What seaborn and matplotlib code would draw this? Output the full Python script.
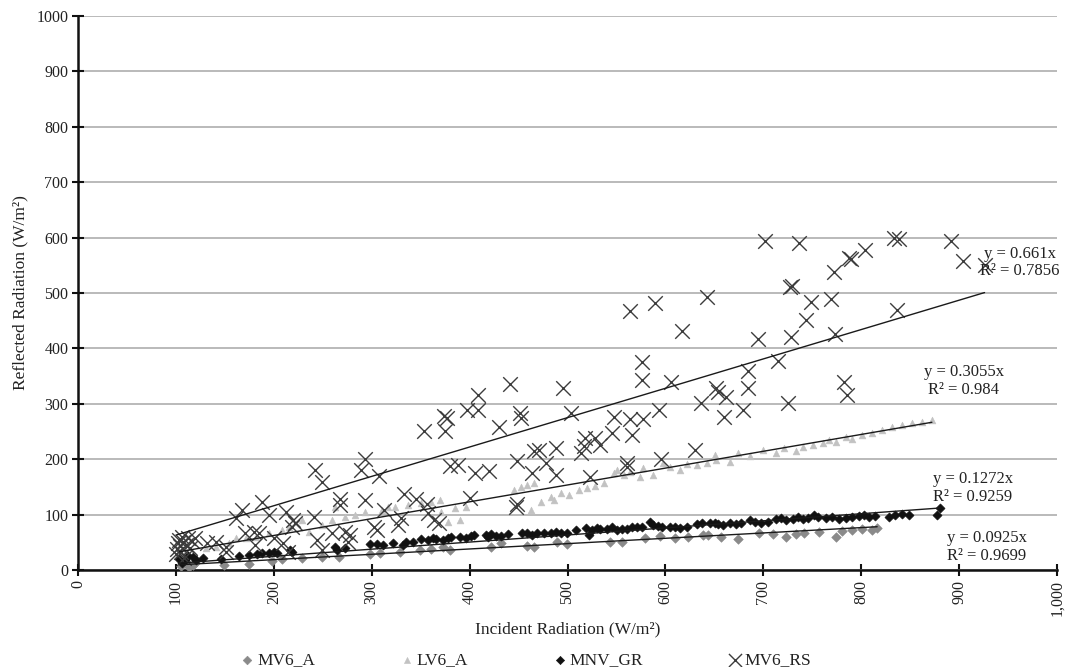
import numpy as np
import pandas as pd
import matplotlib
matplotlib.use("Agg")
import matplotlib.pyplot as plt
import seaborn as sns

# ---------------- data ----------------
series_names = ["MV6_A", "LV6_A", "MNV_GR", "MV6_RS"]

mv6a_x = [105, 108, 111, 113.8, 117.2, 120, 149.3, 174.7, 198.4, 208.6, 228.9, 249.2, 266.1, 298.3, 308.5,
          328.8, 349.1, 360.9, 372.8, 379.5, 421.9, 432, 459.1, 465.9, 489.6, 499.7, 543.8, 555.6, 579.3,
          594.6, 609.8, 623.3, 638.6, 643.6, 657.2, 674.1, 696.1, 709.7, 723.2, 733.4, 741.9, 757.1, 774,
          780.8, 790.9, 801.1, 811.3, 816.3]
mv6a_y = [8, 14, 12, 6, 9, 12, 9, 10.8, 16.8, 19.2, 21, 22.9, 22.9, 28.9, 30.1,
          33.1, 36.1, 37.3, 42.2, 36.1, 42.2, 48.2, 43.4, 41, 51.2, 47, 51.2, 51.2, 57.2,
          61.4, 57.2, 59, 63.2, 63.2, 59, 55.4, 66.2, 65, 60.2, 65, 66.2, 69.2, 60.2,
          71, 72.2, 73.4, 72.2, 75.2]

lv6a_x = [103.6, 107, 110, 130.7, 140.9, 154.4, 161.2, 171.3, 181.5, 195, 208.6, 215.3, 228.9, 235.7, 249.2,
          259.4, 262.8, 272.9, 283.1, 293.2, 310.2, 317, 323.7, 337.2, 350.8, 360.9, 369.4, 371.1, 377.9,
          384.6, 389.7, 396.5, 445.6, 452.3, 459.1, 465.9, 462.5, 472.7, 482.8, 486.2, 493, 501.4, 511.6,
          520.1, 528.5, 537, 547.1, 550.5, 557.3, 564.1, 574.2, 577.6, 587.8, 597.9, 604.7, 614.9, 621.6,
          631.8, 642, 650.4, 652.1, 665.7, 674.1, 686, 699.5, 713.1, 721.5, 733.4, 740.2, 750.3, 760.5,
          767.2, 774, 784.2, 791, 801.1, 811.3, 821.4, 831.6, 841.7, 851.9, 862, 872.2]
lv6a_y = [30.1, 22, 35, 39.1, 42.1, 49.3, 57.2, 57.2, 60.2, 66.2, 72.2, 78.2, 90.2, 69.2, 81.2,
          90.2, 114.3, 96.3, 99.3, 105.3, 108.3, 114.3, 114.4, 117.4, 120.4, 123.4, 126.4, 105.3, 87.3,
          111.3, 90.3, 114.4, 144.4, 150.5, 153.5, 156.5, 108.3, 123.4, 132.4, 126.4, 138.4, 135.4, 144.4,
          147.5, 151.7, 156.5, 174.5, 180.5, 171.5, 177.5, 168.5, 183.6, 171.5, 192.6, 186.6, 180.5, 191.4,
          189.6, 192.6, 207.6, 198.6, 195.6, 210.6, 205.8, 216.6, 211.8, 219.7, 215.4, 222.7, 225.7, 228.7,
          234.7, 231.7, 240.7, 235.9, 243.7, 246.7, 252.7, 258.8, 261.8, 264.8, 267.8, 270.8]

mnvgr_x = [103, 106, 109, 112, 117.1, 120.5, 127.3, 145.9, 164.6, 174.7, 183.2, 188.3, 195, 200.1, 203.5,
           217, 218.7, 262.7, 264.4, 272.9, 298.3, 305.1, 311.9, 322, 332.1, 335.5, 342.3, 350.8, 357.5,
           362.6, 366, 372.8, 377.8, 381.2, 389.7, 396.5, 401.5, 404.9, 416.8, 418.5, 421.9, 427, 432,
           438.8, 454, 459.1, 464.2, 469.3, 476, 482.8, 487.9, 493, 499.7, 508.2, 518.4, 521.8, 525.1,
           530.2, 533.6, 540.4, 545.5, 550.5, 555.6, 560.7, 565.8, 570.9, 575.9, 584.4, 587.8, 592.9,
           596.2, 604.7, 609.8, 614.9, 621.6, 631.8, 636.9, 645.3, 650.4, 653.8, 658.9, 665.7, 672.4,
           677.5, 686, 691.1, 697.8, 704.6, 713.1, 718.1, 723.2, 730, 735.1, 740.2, 745.2, 752, 755.4,
           763.9, 770.6, 777.4, 784.2, 790.9, 797.7, 802.8, 807.9, 814.6, 828.2, 835, 841.7, 848.5,
           877.3, 880.7]
mnvgr_y = [20, 12, 18, 25, 22.9, 18, 21, 19.2, 25.3, 27.1, 28.9, 30.1, 31.3, 33.1, 31.3,
           36.1, 33.1, 40.9, 36.1, 39.1, 46.9, 46.9, 45.1, 48.1, 45.2, 51.2, 51.2, 55.4, 54.2,
           57.2, 55.4, 54.2, 57.2, 60.2, 60.2, 58.4, 61.4, 63.2, 63.2, 60.2, 64.4, 61.4, 62,
           64.4, 67.4, 66.2, 63.2, 66.2, 67.4, 67.4, 69.2, 66.2, 66.2, 72.2, 75.2, 63.2, 72.2,
           75.2, 73.4, 73.4, 77, 72.2, 73.4, 73.4, 77, 78.3, 77, 87.3, 81.3, 79.5,
           78.3, 77, 77, 75.2, 77, 83.1, 84.3, 84.3, 84.3, 83.1, 81.3, 84.3, 83.1,
           85.5, 90.3, 87.3, 84.3, 87.3, 91.5, 93.3, 90.3, 91.5, 96.3, 91.5, 93.3, 99.3, 95.1,
           93.3, 95.1, 91.5, 93.3, 95.1, 97.5, 99.3, 96.3, 97.5, 96.3, 99.3, 100.5, 99.3,
           99.3, 112.5]

mv6rs_x = [100, 101, 102, 103, 104, 105, 106, 107, 108, 110, 112, 114, 116, 119,
           132, 141, 151, 151, 161, 168, 171, 180, 181, 185, 188, 195, 200, 209, 212, 215, 219, 220, 222,
           241, 242, 244, 249, 249, 259, 268, 268, 273, 276, 278, 289, 293, 293, 302, 305, 307, 313,
           327, 330, 333, 345, 353, 356, 358, 364, 369, 374, 375, 377, 380, 388, 397, 400, 406, 409, 409,
           420, 430, 441, 447, 448, 448, 451, 452, 464, 466, 471, 478, 488, 488, 495, 504, 514, 517, 518,
           523, 528, 533, 545, 548, 561, 561, 564, 564, 566, 576, 576, 577, 589, 593, 595, 606, 617, 630,
           636, 642, 652, 654, 660, 662, 679, 684, 684, 695, 702, 715, 725, 727, 729, 728, 736, 744, 749,
           769, 772, 773, 782, 786, 788, 790, 804, 833, 837, 839, 892, 904, 926]
mv6rs_y = [28, 38, 48, 55, 43, 33, 60, 50, 22, 45, 57, 40, 52, 57,
           49, 51, 42, 33, 93, 108, 66, 69, 45, 66, 123, 99, 57, 48, 105, 33, 78, 90, 84,
           96, 180, 54, 158, 36, 66, 129, 117, 69, 51, 63, 180, 201, 126, 78, 72, 170, 108,
           81, 94, 138, 128, 251, 119, 103, 91, 85, 278, 251, 274, 187, 190, 289, 130, 175, 315, 288,
           179, 259, 336, 114, 120, 196, 284, 274, 175, 214, 217, 194, 220, 171, 329, 283, 211, 223, 238,
           168, 238, 226, 247, 277, 193, 186, 468, 272, 244, 376, 343, 272, 482, 288, 200, 340, 432, 217,
           302, 493, 328, 322, 276, 313, 288, 359, 328, 417, 594, 377, 301, 511, 513, 420, 590, 452, 484,
           489, 538, 426, 340, 316, 563, 561, 578, 599, 470, 597, 593, 558, 550]

# trendlines as drawn in the reference (slope, intercept), spanning each series' x-range
trend_slope = [0.0964, 0.304, 0.128, 0.530]
trend_intercept = [-0.6, 1.5, -0.8, 10.0]

equations = ["y = 0.0925x\nR² = 0.9699", "y = 0.3055x\nR² = 0.984",
             "y = 0.1272x\nR² = 0.9259", "y = 0.661x\nR² = 0.7856"]
eq_x = [928, 905, 914, 962]
eq_y = [42, 341, 148, 555]

x_ticks = list(range(0, 1001, 100))
x_tick_labels = ["0", "100", "200", "300", "400", "500", "600", "700", "800", "900", "1,000"]
y_ticks = list(range(0, 1001, 100))

# ---------------- styling ----------------
sns.set_theme(style="white")
plt.rcParams["font.family"] = ["Liberation Serif", "DejaVu Serif"]

xs = [mv6a_x, lv6a_x, mnvgr_x, mv6rs_x]
ys = [mv6a_y, lv6a_y, mnvgr_y, mv6rs_y]
markers = ["D", "^", "D", "x"]
colors = ["#8a8a8a", "#c2c2c2", "#111111", "#3c3c3c"]
sizes = [24, 24, 22, 110]

frames = []
for name, x, y in zip(series_names, xs, ys):
    frames.append(pd.DataFrame({"incident": x, "reflected": y, "series": name}))
df = pd.concat(frames, ignore_index=True)

fig = plt.figure(figsize=(10.66, 6.67), dpi=100)
ax = fig.add_axes([78 / 1066, 1 - 570 / 667, (1057 - 78) / 1066, (570 - 16) / 667])

for i, name in enumerate(series_names):
    sub = df[df["series"] == name]
    kw = dict(linewidth=1.0) if markers[i] == "x" else dict(edgecolor=colors[i], linewidth=0.4)
    sns.scatterplot(data=sub, x="incident", y="reflected", marker=markers[i], color=colors[i],
                    s=sizes[i], ax=ax, label=name, zorder=3 + i, **kw)

for i, name in enumerate(series_names):
    sub = df[df["series"] == name]
    xr = np.array([sub["incident"].min(), sub["incident"].max()])
    trend = pd.DataFrame({"incident": xr, "reflected": trend_slope[i] * xr + trend_intercept[i]})
    sns.lineplot(data=trend, x="incident", y="reflected", ax=ax, color="#1a1a1a",
                 linewidth=1.0, zorder=10, legend=False)

for txt, tx, ty in zip(equations, eq_x, eq_y):
    ax.text(tx, ty, txt, ha="center", va="center", fontsize=12, color="#222222",
            linespacing=1.15, clip_on=False, zorder=11)

ax.set_xlim(0, 1000)
ax.set_ylim(0, 1000)
ax.set_xticks(x_ticks)
ax.set_xticklabels(x_tick_labels, rotation=90, fontsize=11.5)
ax.set_yticks(y_ticks)
ax.set_yticklabels([str(v) for v in y_ticks], fontsize=11.5)
ax.yaxis.grid(True, color="#b4b4b4", linewidth=1.3)
ax.xaxis.grid(False)
ax.set_axisbelow(True)
for s in ["top", "right"]:
    ax.spines[s].set_visible(False)
for s in ["left", "bottom"]:
    ax.spines[s].set_color("#111111")
    ax.spines[s].set_linewidth(1.8)
ax.tick_params(axis="both", direction="inout", length=8, width=1.5, color="#111111",
               labelcolor="#222222", left=True, bottom=True, pad=3)

ax.set_xlabel("Incident Radiation (W/m²)", fontsize=12.5, color="#222222", labelpad=4)
ax.set_ylabel("Reflected Radiation (W/m²)", fontsize=12.5, color="#222222", labelpad=6)

handles, labels = ax.get_legend_handles_labels()
ax.get_legend().remove()
leg = fig.legend(handles[:4], labels[:4], loc="center", bbox_to_anchor=(525 / 1066, 1 - 660 / 667),
                 ncol=4, frameon=False, fontsize=12.5, handletextpad=0.05, columnspacing=4.8,
                 markerscale=0.9, handlelength=1.0)
for t in leg.get_texts():
    t.set_color("#222222")

fig.savefig("out.png", dpi=100)
